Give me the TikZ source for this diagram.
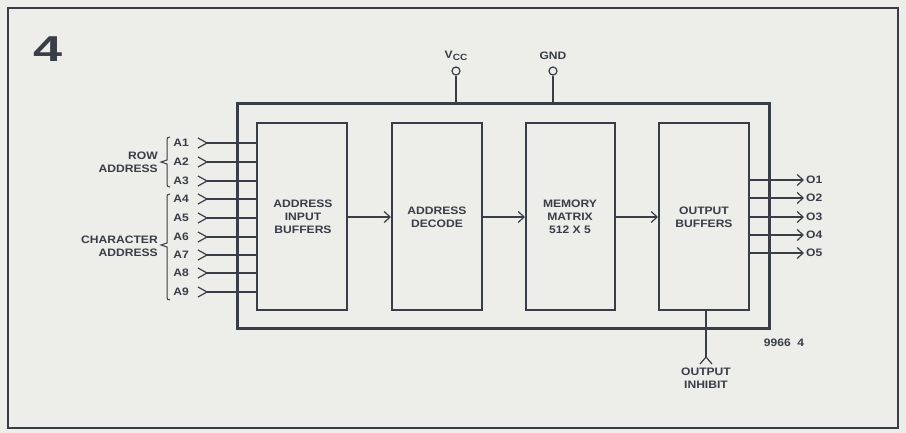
\documentclass[tikz,border=0pt]{standalone}
\usepackage{fontspec}
\setmainfont{Liberation Sans}
\newfontfamily\widefont[FakeStretch=1.12]{Liberation Sans}
\usetikzlibrary{arrows.meta}
\definecolor{ink}{HTML}{383D47}
\definecolor{paper}{HTML}{EDEDE9}
\tikzset{
  lbl/.style={font=\widefont\fontsize{10.8}{13}\selectfont\bfseries, text=ink, inner sep=0pt},
  blk/.style={draw=ink, line width=2pt, inner sep=0pt},
  sig/.style={draw=ink, line width=1.2pt},
  tip/.style={-{Straight Barb[length=6pt,width=11pt,line width=1.2pt]}},
}
\begin{document}
\begin{tikzpicture}[x=1pt,y=-1pt]
\useasboundingbox (0,0) rectangle (906,433);
\fill[paper] (0,0) rectangle (906,433);
\draw[ink, line width=1.6pt] (8,8) rectangle (898,428);
\node[text=ink, font=\fontsize{36}{36}\selectfont\bfseries, inner sep=0pt] (fig) at (48,49) {\scalebox{1.45}[1]{4}};
% chip
\draw[ink, line width=3pt] (237,104) rectangle (769,328);
\coordinate (chipT1) at (456,104);
\coordinate (chipT2) at (553,104);
% blocks
\node[blk, minimum width=90pt, minimum height=187pt] (b1) at (302,216.5) {};
\node[blk, minimum width=90pt, minimum height=187pt] (b2) at (437,216.5) {};
\node[blk, minimum width=89pt, minimum height=187pt] (b3) at (570.5,216.5) {};
\node[blk, minimum width=90pt, minimum height=187pt] (b4) at (704,216.5) {};
\node[lbl, align=center] (t1) at (303,217) {ADDRESS\\INPUT\\BUFFERS};
\node[lbl, align=center] (t2) at (437,217) {ADDRESS\\DECODE};
\node[lbl, align=center] (t3) at (570,217) {MEMORY\\MATRIX\\512 X 5};
\node[lbl, align=center] (t4) at (704,217) {OUTPUT\\BUFFERS};
\draw[sig, tip] (b1.east |- 0,217) -- (b2.west |- 0,217);
\draw[sig, tip] (b2.east |- 0,217) -- (b3.west |- 0,217);
\draw[sig, tip] (b3.east |- 0,217) -- (b4.west |- 0,217);
% power pins
\node[draw=ink, line width=1.2pt, circle, minimum size=8pt, inner sep=0pt] (vcc) at (456,71) {};
\node[draw=ink, line width=1.2pt, circle, minimum size=8pt, inner sep=0pt] (gnd) at (553,71) {};
\draw[sig] (vcc.south) -- (chipT1);
\draw[sig] (gnd.south) -- (chipT2);
\node[lbl] (vccl) at (456,56) {V\raisebox{-1.5pt}{\widefont\fontsize{9}{10}\selectfont\bfseries CC}};
\node[lbl] (gndl) at (553,56) {GND};
% inputs
\foreach \i/\y in {1/143,2/162,3/181,4/199,5/218,6/237,7/255,8/273,9/292}{
  \coordinate (in\i) at (207,\y);
  \draw[sig] (198,\y-5) -- (in\i) -- (198,\y+5);
  \draw[sig] (in\i) -- (b1.west |- in\i);
  \node[lbl] (a\i) at (181,\y) {A\i};
}
% braces
\draw[ink, line width=1pt] (170,137) .. controls (167,137) and (167,138) .. (167,141) -- (167,160) -- (161,162) -- (167,164) -- (167,183) .. controls (167,186) and (167,187) .. (170,187);
\draw[ink, line width=1pt] (170,194) .. controls (167,194) and (167,195) .. (167,198) -- (167,243) -- (161,245) -- (167,247) -- (167,296) .. controls (167,299) and (167,300) .. (170,300);
\node[lbl, anchor=east] (row1) at (158,156) {ROW};
\node[lbl, anchor=east] (row2) at (158,169) {ADDRESS};
\node[lbl, anchor=east] (ch1) at (158,240) {CHARACTER};
\node[lbl, anchor=east] (ch2) at (158,253) {ADDRESS};
% outputs
\foreach \i/\y in {1/180,2/198,3/217,4/235,5/253}{
  \coordinate (out\i) at (804,\y);
  \draw[sig, tip] (b4.east |- out\i) -- (out\i);
  \node[lbl, anchor=west] (o\i) at (806,\y) {O\i};
}
% output inhibit
\coordinate (inh) at (706,357);
\draw[sig] (b4.south -| inh) -- (inh);
\draw[sig] (700,364) -- (inh) -- (712,364);
\node[lbl, align=center] (inhl) at (706,378) {OUTPUT\\INHIBIT};
\node[lbl] (code) at (784,343) {9966\ \ 4};
\end{tikzpicture}
\end{document}
